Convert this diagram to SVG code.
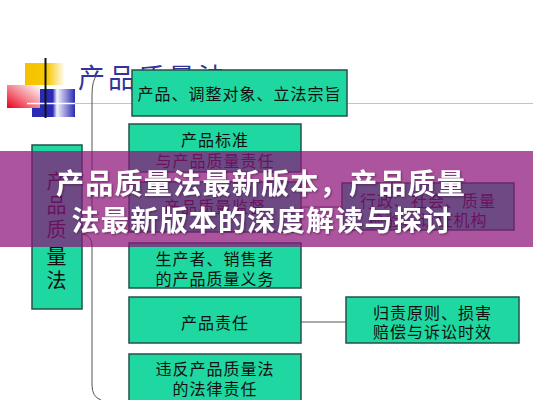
<svg xmlns="http://www.w3.org/2000/svg" width="533" height="400" viewBox="0 0 533 400">
<defs>
<linearGradient id="gY" x1="0" y1="0" x2="1" y2="0"><stop offset="0" stop-color="#f5c200"/><stop offset="0.55" stop-color="#f7c800"/><stop offset="1" stop-color="#ffffff"/></linearGradient>
<linearGradient id="gB" x1="0" y1="0" x2="1" y2="0"><stop offset="0" stop-color="#2a2ab4"/><stop offset="0.48" stop-color="#2a2ab4"/><stop offset="0.58" stop-color="#f4f4fb"/><stop offset="1" stop-color="#2a2ab4"/></linearGradient>
<linearGradient id="gR" x1="0" y1="1" x2="1" y2="0"><stop offset="0" stop-color="#e8001a"/><stop offset="0.45" stop-color="#f37a86"/><stop offset="1" stop-color="#ffffff"/></linearGradient>
<filter id="sh" x="-5%" y="-20%" width="110%" height="140%"><feDropShadow dx="1" dy="1" stdDeviation="1" flood-color="#3a1040" flood-opacity="0.6"/></filter>
</defs>
<style>
.box{fill:#1fd7a0;stroke:#24524a;stroke-width:1.5}
.t{font-family:"Noto Sans CJK SC","Noto Sans",sans-serif;font-size:16px;fill:#111;text-anchor:middle;dominant-baseline:central;letter-spacing:1px}
.c{stroke:#555;stroke-width:1;fill:none}
.ban{font-family:"Noto Sans CJK SC","Noto Sans",sans-serif;font-size:28px;font-weight:bold;fill:#ffffff;text-anchor:middle;letter-spacing:1.3px}
</style>
<rect width="533" height="400" fill="#ffffff"/>
<g id="deco">
<rect x="25" y="63" width="40" height="22" fill="url(#gY)"/>
<rect x="32" y="89" width="43" height="28" fill="url(#gB)"/>
<rect x="7" y="85" width="33" height="23" fill="url(#gR)"/>
<line x1="27" y1="103.5" x2="533" y2="103.5" stroke="#c4c4c4" stroke-width="1.2"/>
<line x1="27" y1="103.5" x2="75" y2="103.5" stroke="#ffffff" stroke-width="1.5"/>
<line x1="45.5" y1="58" x2="45.5" y2="118" stroke="#111" stroke-width="2"/>
<text x="78" y="88" style="font-family:'Noto Sans CJK SC',sans-serif;font-size:27px;fill:#33339a;letter-spacing:3px">产品质量法</text>
</g>
<g id="connectors">
<path class="c" d="M97,75 Q92,80 92,95 L92,222 Q92,232 83,234 Q92,236 92,246 L92,385 Q92,397 101,400" stroke="#222"/>
<line class="c" x1="301" y1="207" x2="342" y2="207"/>
<line class="c" x1="301" y1="322" x2="346" y2="322"/>
</g>
<g id="n_main"><rect class="box" x="32" y="145" width="50" height="164"/>
<text class="t" style="font-size:20px" x="57" y="180">产</text><text class="t" style="font-size:20px" x="57" y="204">品</text><text class="t" style="font-size:20px" x="57" y="228">质</text><text class="t" style="font-size:20px" x="57" y="255">量</text><text class="t" style="font-size:20px" x="57" y="279">法</text></g>
<g id="n1"><rect class="box" x="132" y="70" width="215" height="46"/><text class="t" x="239.5" y="93">产品、调整对象、立法宗旨</text></g>
<g id="n2"><rect class="box" x="129" y="124" width="172" height="48"/><text class="t" x="215" y="139">产品标准</text><text class="t" x="215" y="160">与产品质量责任</text></g>
<g id="n3"><rect class="box" x="129" y="182" width="172" height="50"/><text class="t" x="215" y="206">产品质量监督</text></g>
<g id="n4"><rect class="box" x="129" y="243" width="172" height="45"/><text class="t" x="215" y="258">生产者、销售者</text><text class="t" x="215" y="278">的产品质量义务</text></g>
<g id="n5"><rect class="box" x="129" y="297" width="172" height="46"/><text class="t" x="215" y="322">产品责任</text></g>
<g id="n6"><rect class="box" x="129" y="354" width="172" height="56"/><text class="t" x="215" y="368">违反产品质量法</text><text class="t" x="215" y="388">的法律责任</text></g>
<g id="n7"><rect class="box" x="342" y="183" width="172" height="47"/><text class="t" x="428" y="200">行政、社会、质量</text><text class="t" x="428" y="219">检验、认证机构</text></g>
<g id="n8"><rect class="box" x="346" y="297" width="173" height="46"/><text class="t" x="432.5" y="312">归责原则、损害</text><text class="t" x="432.5" y="331">赔偿与诉讼时效</text></g>
<g id="banner">
<rect x="0" y="151" width="533" height="96" fill="#8c1478" fill-opacity="0.72"/>
<text class="ban" x="261" y="194" filter="url(#sh)">产品质量法最新版本，产品质量</text>
<text class="ban" x="262" y="231" filter="url(#sh)">法最新版本的深度解读与探讨</text>
</g>
</svg>
